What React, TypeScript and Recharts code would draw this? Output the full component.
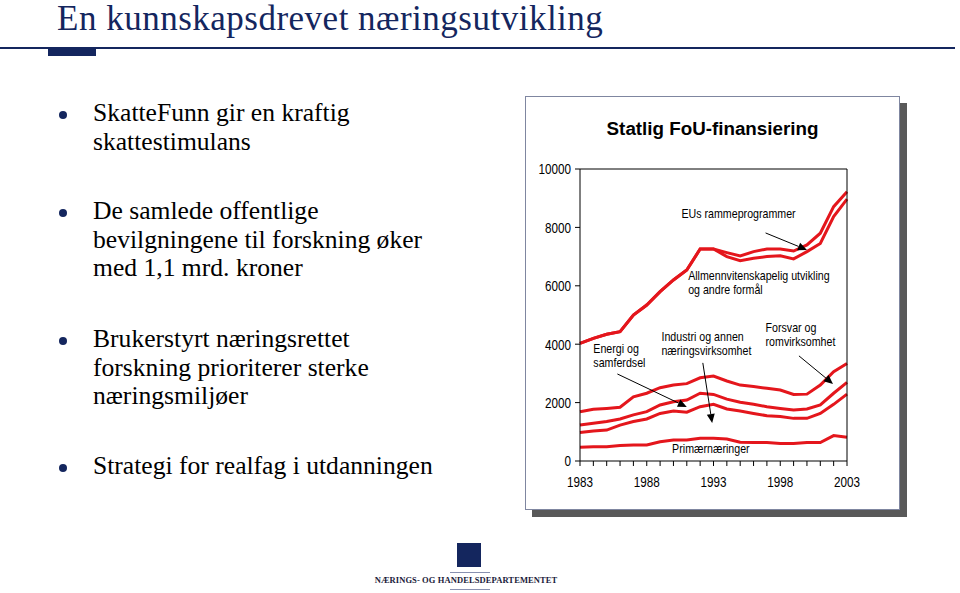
import React from 'react';
import { LineChart, Line, XAxis, YAxis, ReferenceLine, ReferenceDot } from 'recharts';

// cumulative (stacked) top line of each budget category, mill. kr
const years = [1983, 1984, 1985, 1986, 1987, 1988, 1989, 1990, 1991, 1992, 1993, 1994, 1995, 1996, 1997, 1998, 1999, 2000, 2001, 2002, 2003];
const primaer = [470, 490, 490, 530, 550, 550, 660, 720, 720, 780, 780, 750, 640, 630, 630, 600, 600, 630, 630, 870, 810];
const industri = [980, 1030, 1060, 1230, 1350, 1440, 1630, 1710, 1670, 1860, 1940, 1780, 1710, 1630, 1550, 1520, 1460, 1460, 1630, 1940, 2290];
const energi = [1230, 1290, 1350, 1440, 1580, 1690, 1920, 2030, 2090, 2320, 2280, 2120, 2010, 1940, 1860, 1800, 1750, 1780, 1920, 2320, 2690];
const forsvar = [1690, 1770, 1800, 1840, 2200, 2320, 2510, 2600, 2650, 2850, 2910, 2740, 2600, 2550, 2490, 2430, 2280, 2290, 2600, 3060, 3340];
const allmenn = [4030, 4200, 4340, 4430, 5000, 5340, 5800, 6200, 6540, 7260, 7260, 7000, 6860, 6940, 7000, 7030, 6920, 7170, 7450, 8370, 8970];
const eu = [4030, 4200, 4340, 4430, 5000, 5340, 5800, 6200, 6540, 7260, 7260, 7135, 7020, 7170, 7260, 7260, 7190, 7400, 7800, 8710, 9220];

const yTicks = [0, 2000, 4000, 6000, 8000, 10000];
const labelYears = [1983, 1988, 1993, 1998, 2003];

const seriesKeys = ['primaer', 'industri', 'energi', 'forsvar', 'allmenn', 'eu'];
const data = years.map((year, i) => ({
  year,
  primaer: primaer[i],
  industri: industri[i],
  energi: energi[i],
  forsvar: forsvar[i],
  allmenn: allmenn[i],
  eu: eu[i],
}));

// annotations, in data coordinates
const labels = [
  { x: 1990.6, y: 8490, lines: ['EUs rammeprogrammer'] },
  { x: 1991.1, y: 6340, lines: ['Allmennvitenskapelig utvikling', 'og andre formål'] },
  { x: 1984.0, y: 3840, lines: ['Energi og', 'samferdsel'] },
  { x: 1989.1, y: 4250, lines: ['Industri og annen', 'næringsvirksomhet'] },
  { x: 1996.9, y: 4560, lines: ['Forsvar og', 'romvirksomhet'] },
  { x: 1989.9, y: 445, lines: ['Primærnæringer'] },
];
const arrows = [
  { from: [1996.9, 7810], to: [2000.0, 7230] },
  { from: [1985.8, 2980], to: [1991.0, 1850] },
  { from: [1992.2, 3360], to: [1992.9, 1300] },
  { from: [1999.4, 3600], to: [2001.95, 2640] },
];

const bullets = [
  { top: 99, lines: ['SkatteFunn gir en kraftig', 'skattestimulans'] },
  { top: 197, lines: ['De samlede offentlige', 'bevilgningene til forskning øker', 'med 1,1 mrd. kroner'] },
  { top: 325, lines: ['Brukerstyrt næringsrettet', 'forskning prioriterer sterke', 'næringsmiljøer'] },
  { top: 452, lines: ['Strategi for realfag i utdanningen'] },
];

const NAVY = '#14265e';
const RED = '#e4161c';
const SANS = '"Liberation Sans", Arial, sans-serif';
const SERIF = '"Liberation Serif", "Times New Roman", serif';

// no Arial Narrow available: squeeze Liberation Sans horizontally
const NarrowText = ({ x, y, anchor, size, squeeze, dy, children }: any) => (
  <text
    transform={`translate(${x},${y}) scale(${squeeze},1)`}
    x={0}
    y={0}
    dy={dy}
    textAnchor={anchor}
    fontFamily={SANS}
    fontSize={size}
    fill="#000"
  >
    {children}
  </text>
);

const XTick = (props: any) => {
  const v = props.payload.value;
  if (!labelYears.includes(v)) return null;
  return <NarrowText x={props.x} y={props.y} anchor="middle" size={15} squeeze={0.78} dy="0.71em">{v}</NarrowText>;
};
const LeftTick = (props: any) => (
  <NarrowText x={props.x} y={props.y} anchor="end" size={15} squeeze={0.78} dy="0.355em">{props.payload.value}</NarrowText>
);
const RightTick = (props: any) => (
  <NarrowText x={props.x} y={props.y} anchor="start" size={15} squeeze={0.78} dy="0.355em">{props.payload.value}</NarrowText>
);

const ArrowShape = (props: any) => {
  const { x1, y1, x2, y2 } = props;
  const a = Math.atan2(y2 - y1, x2 - x1);
  const len = 9;
  const w = 4;
  const bx = x2 - len * Math.cos(a);
  const by = y2 - len * Math.sin(a);
  const pts = `${x2},${y2} ${bx - w * Math.sin(a)},${by + w * Math.cos(a)} ${bx + w * Math.sin(a)},${by - w * Math.cos(a)}`;
  return (
    <g>
      <line x1={x1} y1={y1} x2={bx} y2={by} stroke="#000" strokeWidth={1} />
      <polygon points={pts} fill="#000" />
    </g>
  );
};

const makeLabel = (lines: string[]) => (props: any) => (
  <g transform={`translate(${props.cx},${props.cy}) scale(0.82,1)`}>
    {lines.map((l, i) => (
      <text key={i} x={0} y={i * 14} dy="0.35em" fontFamily={SANS} fontSize={13} fill="#000">{l}</text>
    ))}
  </g>
);

export default function App() {
  return (
    <div style={{ position: 'absolute', left: 0, top: 0, width: 960, height: 593, background: '#fff', overflow: 'hidden' }}>
      <div
        style={{
          position: 'absolute', left: 57, top: 0, fontFamily: SERIF, letterSpacing: 0.5,
          fontSize: 35, lineHeight: '38.7px', color: NAVY, whiteSpace: 'nowrap',
        }}
      >
        En kunnskapsdrevet næringsutvikling
      </div>
      <div style={{ position: 'absolute', left: 0, top: 47, width: 955, height: 2, background: NAVY }} />
      <div style={{ position: 'absolute', left: 48, top: 48, width: 48, height: 8, background: NAVY }} />

      {bullets.map((b, i) => (
        <div key={i} style={{ position: 'absolute', left: 93, top: b.top, fontFamily: SERIF, fontSize: 25.6, lineHeight: '28.5px', color: '#000', whiteSpace: 'nowrap' }}>
          <span style={{ position: 'absolute', left: -34, top: 12, width: 8, height: 8, borderRadius: 4, background: NAVY }} />
          {b.lines.map((l, j) => (
            <div key={j}>{l}</div>
          ))}
        </div>
      ))}

      <div
        style={{
          position: 'absolute', left: 525, top: 96, width: 373, height: 412,
          border: '1px solid #7f86a0', background: '#fff', boxShadow: '7px 7px 0 #595959',
        }}
      >
        <div
          style={{
            position: 'absolute', left: 0, top: 21, width: 373, textAlign: 'center',
            fontFamily: SANS, fontWeight: 'bold', fontSize: 18.8, color: '#000',
          }}
        >
          Statlig FoU-finansiering
        </div>
        <LineChart width={373} height={412} data={data} margin={{ top: 72, right: 8, bottom: 14, left: 8 }}>
          <XAxis
            dataKey="year"
            type="number"
            domain={[1983, 2003]}
            ticks={years}
            interval={0}
            tickSize={5}
            tickMargin={10}
            height={34}
            stroke="#000"
            tick={XTick}
          />
          <YAxis
            yAxisId="left"
            domain={[0, 10000]}
            ticks={yTicks}
            width={46}
            tickSize={5}
            tickMargin={4}
            stroke="#000"
            tick={LeftTick}
          />
          <YAxis
            yAxisId="right"
            orientation="right"
            domain={[0, 10000]}
            ticks={yTicks}
            width={44}
            tickSize={5}
            tickMargin={3}
            stroke="#000"
            tick={RightTick}
          />
          <ReferenceLine yAxisId="left" y={10000} stroke="#000" strokeWidth={1} ifOverflow="visible" />
          {seriesKeys.map((k) => (
            <Line
              key={k}
              yAxisId="left"
              dataKey={k}
              type="linear"
              stroke={RED}
              strokeWidth={3}
              dot={false}
              activeDot={false}
              isAnimationActive={false}
            />
          ))}
          {arrows.map((a, i) => (
            <ReferenceLine
              key={'a' + i}
              yAxisId="left"
              segment={[{ x: a.from[0], y: a.from[1] }, { x: a.to[0], y: a.to[1] }]}
              shape={ArrowShape}
              ifOverflow="visible"
            />
          ))}
          {labels.map((l, i) => (
            <ReferenceDot
              key={'l' + i}
              yAxisId="left"
              x={l.x}
              y={l.y}
              r={0}
              shape={makeLabel(l.lines)}
              ifOverflow="visible"
            />
          ))}
        </LineChart>
      </div>

      <div style={{ position: 'absolute', left: 457, top: 543, width: 24, height: 24, background: NAVY }} />
      <div style={{ position: 'absolute', left: 450, top: 572, width: 40, height: 1, background: '#8890b0' }} />
      <div
        style={{
          position: 'absolute', left: 366, top: 575, width: 200, textAlign: 'center',
          fontFamily: SERIF, fontWeight: 'bold', fontSize: 8.5, letterSpacing: 0.1,
          color: '#1a1a3a', whiteSpace: 'nowrap',
        }}
      >
        NÆRINGS- OG HANDELSDEPARTEMENTET
      </div>
      <div style={{ position: 'absolute', left: 450, top: 589, width: 40, height: 1, background: '#8890b0' }} />
    </div>
  );
}
